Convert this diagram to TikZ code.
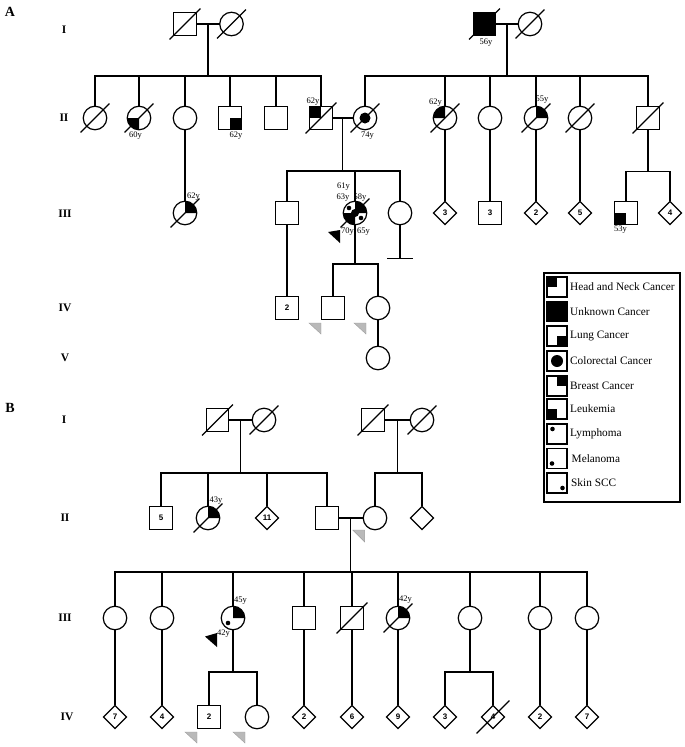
\documentclass[tikz,border=0pt]{standalone}
\usepackage{fontspec}
\setmainfont{Liberation Serif}
\setsansfont{Liberation Sans}
\usetikzlibrary{shapes.geometric,calc}
\tikzset{
 ln/.style={line width=1.2pt, line cap=rect},
 base/.style={draw, line width=1.2pt, inner sep=0pt, font=\sffamily\bfseries\fontsize{8}{8}\selectfont},
 sq/.style={base, rectangle, minimum size=22.5pt},
 ci/.style={base, circle, minimum size=23.5pt},
 di/.style={base, diamond, minimum width=23.5pt, minimum height=23.5pt},
 age/.style={font=\fontsize{8.5}{9}\selectfont, inner sep=0pt},
 gen/.style={font=\bfseries\fontsize{11.5}{12}\selectfont, inner sep=0pt},
 panel/.style={font=\bfseries\fontsize{14}{14}\selectfont, inner sep=0pt},
 legtext/.style={font=\fontsize{11.3}{12}\selectfont, anchor=west, inner sep=0pt},
 legicon/.style={draw, line width=1.2pt, minimum width=20pt, minimum height=20pt, inner sep=0pt},
 graytri/.style={fill=gray!55, draw=gray!75, line width=0.4pt},
}
\newcommand\cq[2]{\fill (#1.center) -- ++(#2:11.75pt) arc[start angle=#2, delta angle=90, radius=11.75pt] -- cycle;}
\newcommand\sqq[2]{\fill (#1.center) rectangle (#1.#2);}
\newcommand\deadmark[2]{\draw[ln] ([shift={(-#2pt,-#2pt)}]#1.center) -- ([shift={(#2pt,#2pt)}]#1.center);}
\newcommand\dotat[3]{\fill ([shift={(#2pt,#3pt)}]#1.center) circle[radius=2.3pt];}
\newcommand\gtri[1]{\fill[graytri] ([shift={(-24pt,-15pt)}]#1.center) -- ([shift={(-12pt,-15pt)}]#1.center) -- ([shift={(-12pt,-26pt)}]#1.center) -- cycle;}
\begin{document}
\begin{tikzpicture}[x=1pt,y=1pt]
\useasboundingbox (0,0) rectangle (685,-747);
\fill[white] (0,0) rectangle (685,-747);

% ---------------- labels
\node[panel] (pA) at (10,-12) {A};
\node[panel] (pB) at (10,-408) {B};
\node[gen] (gA1) at (64,-30) {I};
\node[gen] (gA2) at (64,-118) {II};
\node[gen] (gA3) at (65,-214) {III};
\node[gen] (gA4) at (65,-308) {IV};
\node[gen] (gA5) at (65,-358) {V};
\node[gen] (gB1) at (64,-420) {I};
\node[gen] (gB2) at (65,-518) {II};
\node[gen] (gB3) at (65,-618) {III};
\node[gen] (gB4) at (67,-717) {IV};

% ================= PEDIGREE A
\node[sq] (A1) at (185,-24) {};
\node[ci] (A2) at (231.5,-24) {};
\node[sq,fill=black] (A3) at (484.5,-24) {};
\node[ci] (A4) at (530,-24) {};
\node[ci] (A5) at (95,-118) {};
\node[ci] (A6) at (139,-118) {};
\node[ci] (A7) at (185,-118) {};
\node[sq] (A8) at (230,-118) {};
\node[sq] (A9) at (276,-118) {};
\node[sq] (A10) at (321,-118) {};
\node[ci] (A11) at (365,-118) {};
\node[ci] (A12) at (445,-118) {};
\node[ci] (A13) at (490,-118) {};
\node[ci] (A14) at (536,-118) {};
\node[ci] (A15) at (580,-118) {};
\node[sq] (A16) at (648,-118) {};
\node[ci] (A17) at (185,-213) {};
\node[sq] (A18) at (287,-213) {};
\node[ci] (A19) at (355,-213) {};
\node[ci] (A20) at (400,-213) {};
\node[di] (A21) at (445,-213) {3};
\node[sq] (A22) at (490,-213) {3};
\node[di] (A23) at (536,-213) {2};
\node[di] (A24) at (580,-213) {5};
\node[sq] (A25) at (626,-213) {};
\node[di] (A26) at (670,-213) {4};
\node[sq] (A27) at (287,-308) {2};
\node[sq] (A28) at (333,-308) {};
\node[ci] (A29) at (378,-308) {};
\node[ci] (A30) at (378,-358) {};

% fills
\cq{A6}{180}
\sqq{A8}{south east}
\sqq{A10}{north west}
\fill (A11.center) circle[radius=5.5pt];
\cq{A12}{90}
\cq{A14}{0}
\cq{A17}{0}
\sqq{A25}{south west}
\cq{A19}{0}
\cq{A19}{180}
\fill (A19.center) circle[radius=4pt];
\dotat{A19}{-6}{5}
\dotat{A19}{6}{-5}

% deceased
\deadmark{A1}{15}\deadmark{A2}{14}\deadmark{A3}{15}\deadmark{A4}{14}
\deadmark{A5}{14}\deadmark{A6}{14}\deadmark{A10}{15}\deadmark{A11}{14}
\deadmark{A12}{14}\deadmark{A14}{14}\deadmark{A15}{14}\deadmark{A16}{15}
\deadmark{A17}{14}\deadmark{A19}{14}

% connectors A
\draw[ln] (A1.east) -- (A2.west);
\coordinate (mA1) at ($(A1.east)!0.5!(A2.west)$);
\coordinate (sA1) at ($(mA1)+(0,-52)$);
\draw[ln] (mA1) -- (sA1);
\draw[ln] (A5.north |- sA1) -- (A10.north |- sA1);
\foreach \n in {A5,A6,A7,A8,A9,A10} \draw[ln] (\n.north) -- (\n.north |- sA1);

\draw[ln] (A3.east) -- (A4.west);
\coordinate (mA2) at ($(A3.east)!0.5!(A4.west)$);
\coordinate (sA2) at ($(mA2)+(0,-52)$);
\draw[ln] (mA2) -- (sA2);
\draw[ln] (A11.north |- sA2) -- (A16.north |- sA2);
\foreach \n in {A11,A12,A13,A14,A15,A16} \draw[ln] (\n.north) -- (\n.north |- sA2);

\draw[ln] (A7.south) -- (A17.north);
\draw[ln] (A10.east) -- (A11.west);
\coordinate (mA3) at ($(A10.east)!0.5!(A11.west)$);
\coordinate (sA3) at ($(mA3)+(0,-53)$);
\draw[ln] (mA3) -- (sA3);
\draw[ln] (A18.north |- sA3) -- (A20.north |- sA3);
\foreach \n in {A18,A19,A20} \draw[ln] (\n.north) -- (\n.north |- sA3);
\draw[ln] (A20.south) -- ++(0,-33) coordinate (tb);
\draw[ln] ([xshift=-12pt]tb) -- ([xshift=12pt]tb);

\draw[ln] (A12.south) -- (A21.north);
\draw[ln] (A13.south) -- (A22.north);
\draw[ln] (A14.south) -- (A23.north);
\draw[ln] (A15.south) -- (A24.north);
\coordinate (sA4) at ($(A16.south)+(0,-41.75)$);
\draw[ln] (A16.south) -- (sA4);
\draw[ln] (A25.north |- sA4) -- (A26.north |- sA4);
\foreach \n in {A25,A26} \draw[ln] (\n.north) -- (\n.north |- sA4);

\draw[ln] (A18.south) -- (A27.north);
\coordinate (sA5) at ($(A19.center)+(0,-51)$);
\draw[ln] (A19.south) -- (sA5);
\draw[ln] (A28.north |- sA5) -- (A29.north |- sA5);
\foreach \n in {A28,A29} \draw[ln] (\n.north) -- (\n.north |- sA5);
\draw[ln] (A29.south) -- (A30.north);

% proband + grey arrows A
\fill ([shift={(-27pt,-19pt)}]A19.center) -- ([shift={(-15pt,-17pt)}]A19.center) -- ([shift={(-15pt,-30pt)}]A19.center) -- cycle;
\gtri{A28}
\gtri{A29}

% ages A
\node[age] (tA3) at (486,-43) {56y};
\node[age] (tA6) at (135.5,-136) {60y};
\node[age] (tA8) at (236,-136) {62y};
\node[age] (tA10) at (313,-102) {62y};
\node[age] (tA11) at (367.5,-136) {74y};
\node[age] (tA12) at (435.5,-103) {62y};
\node[age] (tA14) at (542,-100) {55y};
\node[age] (tA17) at (193.5,-197) {62y};
\node[age] (tA25) at (620.5,-230) {53y};
\node[age] (tA19a) at (343.5,-187) {61y};
\node[age] (tA19b) at (343,-198) {63y};
\node[age] (tA19c) at (360,-198) {58y};
\node[age] (tA19d) at (347.5,-232) {70y};
\node[age] (tA19e) at (363.5,-232) {65y};

% ================= LEGEND
\draw[line width=1.8pt] (544,-273) rectangle (680,-502);
\node[legicon] (L1) at (557,-287) {};
\node[legicon,fill=black] (L2) at (557,-311.5) {};
\node[legicon] (L3) at (557,-336) {};
\node[legicon] (L4) at (557,-361) {};
\node[legicon] (L5) at (557,-386) {};
\node[legicon] (L6) at (557,-409) {};
\node[legicon] (L7) at (557,-434) {};
\node[legicon] (L8) at (557,-458.5) {};
\node[legicon] (L9) at (557,-483) {};
\sqq{L1}{north west}
\sqq{L3}{south east}
\fill (L4.center) circle[radius=6pt];
\sqq{L5}{north east}
\sqq{L6}{south west}
\dotat{L7}{-4.5}{5}
\dotat{L8}{-5}{-5}
\dotat{L9}{5.5}{-5}
\node[legtext] (T1) at (570,-287) {Head and Neck Cancer};
\node[legtext] (T2) at (570,-311.5) {Unknown Cancer};
\node[legtext] (T3) at (570,-336) {Lung Cancer};
\node[legtext] (T4) at (570,-361) {Colorectal Cancer};
\node[legtext] (T5) at (570,-386) {Breast Cancer};
\node[legtext] (T6) at (570,-409) {Leukemia};
\node[legtext] (T7) at (570,-434) {Lymphoma};
\node[legtext] (T8) at (571.5,-458.5) {Melanoma};
\node[legtext] (T9) at (571,-483) {Skin SCC};

% ================= PEDIGREE B
\node[sq] (B1) at (217.5,-420) {};
\node[ci] (B2) at (264,-420) {};
\node[sq] (B3) at (373,-420) {};
\node[ci] (B4) at (422,-420) {};
\node[sq] (B5) at (161,-518) {5};
\node[ci] (B6) at (208,-518) {};
\node[di] (B7) at (267,-518) {11};
\node[sq] (B8) at (327,-518) {};
\node[ci] (B9) at (375,-518) {};
\node[di] (B10) at (422,-518) {};
\node[ci] (B11) at (115,-618) {};
\node[ci] (B12) at (162,-618) {};
\node[ci] (B13) at (233,-618) {};
\node[sq] (B14) at (304,-618) {};
\node[sq] (B15) at (352,-618) {};
\node[ci] (B16) at (398,-618) {};
\node[ci] (B17) at (470,-618) {};
\node[ci] (B18) at (540,-618) {};
\node[ci] (B19) at (587,-618) {};
\node[di] (B20) at (115,-717) {7};
\node[di] (B21) at (162,-717) {4};
\node[sq] (B22) at (209,-717) {2};
\node[ci] (B23) at (257,-717) {};
\node[di] (B24) at (304,-717) {2};
\node[di] (B25) at (352,-717) {6};
\node[di] (B26) at (398,-717) {9};
\node[di] (B27) at (445,-717) {3};
\node[di] (B28) at (493,-717) {4};
\node[di] (B29) at (540,-717) {2};
\node[di] (B30) at (587,-717) {7};

\cq{B6}{0}
\cq{B13}{0}
\dotat{B13}{-5}{-5}
\cq{B16}{0}

\deadmark{B1}{15}\deadmark{B2}{14}\deadmark{B3}{15}\deadmark{B4}{14}
\deadmark{B6}{14}\deadmark{B15}{15}\deadmark{B16}{14}\deadmark{B28}{16}

% connectors B
\draw[ln] (B1.east) -- (B2.west);
\coordinate (mB1) at ($(B1.east)!0.5!(B2.west)$);
\coordinate (sB1) at ($(mB1)+(0,-53)$);
\draw[ln] (mB1) -- (sB1);
\draw[ln] (B5.north |- sB1) -- (B8.north |- sB1);
\foreach \n in {B5,B6,B7,B8} \draw[ln] (\n.north) -- (\n.north |- sB1);

\draw[ln] (B3.east) -- (B4.west);
\coordinate (mB2) at ($(B3.east)!0.5!(B4.west)$);
\coordinate (sB2) at ($(mB2)+(0,-53)$);
\draw[ln] (mB2) -- (sB2);
\draw[ln] (B9.north |- sB2) -- (B10.north |- sB2);
\foreach \n in {B9,B10} \draw[ln] (\n.north) -- (\n.north |- sB2);

\draw[ln] (B8.east) -- (B9.west);
\coordinate (mB3) at ($(B8.east)!0.5!(B9.west)$);
\coordinate (sB3) at ($(mB3)+(0,-54)$);
\draw[ln] (mB3) -- (sB3);
\draw[ln] (B11.north |- sB3) -- (B19.north |- sB3);
\foreach \n in {B11,B12,B13,B14,B15,B16,B17,B18,B19} \draw[ln] (\n.north) -- (\n.north |- sB3);
\fill[graytri] ([shift={(2pt,-12pt)}]mB3) -- ([shift={(14pt,-12pt)}]mB3) -- ([shift={(14pt,-24pt)}]mB3) -- cycle;

\draw[ln] (B11.south) -- (B20.north);
\draw[ln] (B12.south) -- (B21.north);
\draw[ln] (B14.south) -- (B24.north);
\draw[ln] (B15.south) -- (B25.north);
\draw[ln] (B16.south) -- (B26.north);
\draw[ln] (B18.south) -- (B29.north);
\draw[ln] (B19.south) -- (B30.north);
\coordinate (sB4) at ($(B13.center)+(0,-54)$);
\draw[ln] (B13.south) -- (sB4);
\draw[ln] (B22.north |- sB4) -- (B23.north |- sB4);
\foreach \n in {B22,B23} \draw[ln] (\n.north) -- (\n.north |- sB4);
\coordinate (sB5) at ($(B17.center)+(0,-54)$);
\draw[ln] (B17.south) -- (sB5);
\draw[ln] (B27.north |- sB5) -- (B28.north |- sB5);
\foreach \n in {B27,B28} \draw[ln] (\n.north) -- (\n.north |- sB5);

\fill ([shift={(-28pt,-18.5pt)}]B13.center) -- ([shift={(-16pt,-15pt)}]B13.center) -- ([shift={(-16pt,-29pt)}]B13.center) -- cycle;
\gtri{B22}
\gtri{B23}

\node[age] (tB6) at (216,-501) {43y};
\node[age] (tB13a) at (240.5,-601) {45y};
\node[age] (tB13b) at (223.5,-634) {42y};
\node[age] (tB16) at (405.5,-600) {42y};
\end{tikzpicture}
\end{document}
